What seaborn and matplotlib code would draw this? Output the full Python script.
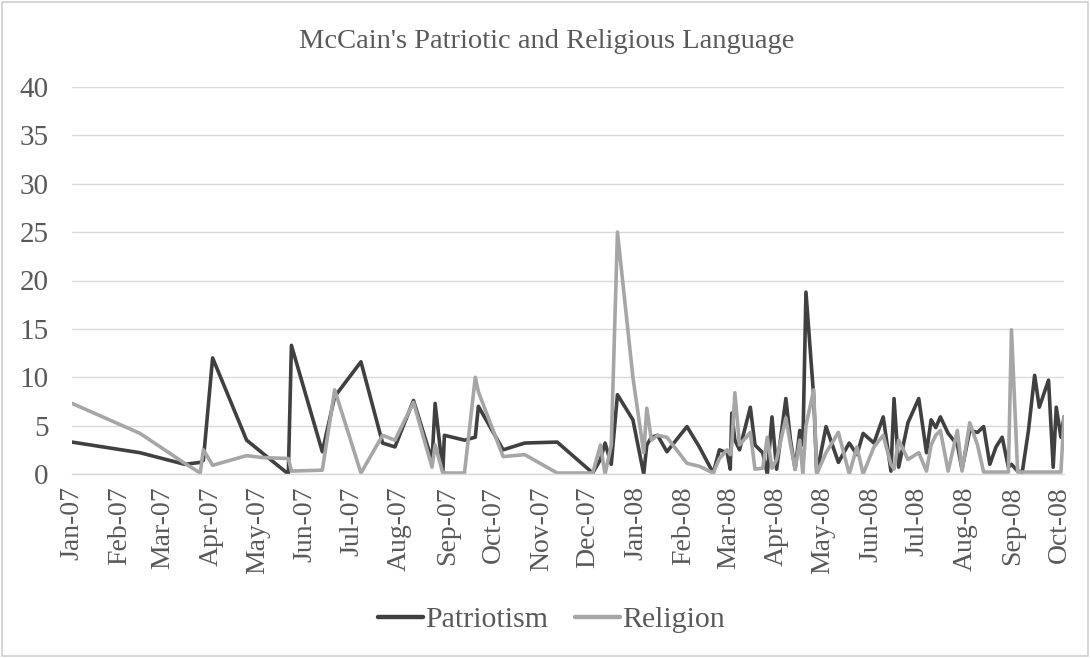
import matplotlib
matplotlib.use("Agg")
import matplotlib.pyplot as plt
import matplotlib.dates as mdates
from matplotlib.patches import Rectangle
import pandas as pd
import seaborn as sns

# Speech dates with patriotic / religious language counts
dates = [
    "2007-01-01", "2007-02-14", "2007-03-15", "2007-03-25", "2007-03-27", "2007-04-02",
    "2007-04-24", "2007-05-04", "2007-05-21", "2007-05-23", "2007-06-12", "2007-06-20",
    "2007-07-07", "2007-07-21", "2007-07-29", "2007-08-10", "2007-08-22", "2007-08-24",
    "2007-08-29", "2007-08-30", "2007-09-12", "2007-09-19", "2007-09-21", "2007-10-07",
    "2007-10-21", "2007-11-11", "2007-12-04", "2007-12-09", "2007-12-12", "2007-12-16",
    "2007-12-20", "2007-12-30", "2008-01-06", "2008-01-08", "2008-01-11", "2008-01-15",
    "2008-01-21", "2008-02-03", "2008-02-11", "2008-02-20", "2008-02-24", "2008-02-29",
    "2008-03-02", "2008-03-03", "2008-03-05", "2008-03-08", "2008-03-15", "2008-03-18",
    "2008-03-23", "2008-03-26", "2008-03-29", "2008-04-01", "2008-04-07", "2008-04-10",
    "2008-04-13", "2008-04-16", "2008-04-18", "2008-04-20", "2008-04-25", "2008-04-27",
    "2008-05-03", "2008-05-11", "2008-05-18", "2008-05-23", "2008-05-27", "2008-06-03",
    "2008-06-09", "2008-06-14", "2008-06-16", "2008-06-19", "2008-06-25", "2008-07-02",
    "2008-07-07", "2008-07-10", "2008-07-13", "2008-07-16", "2008-07-21", "2008-07-27",
    "2008-07-30", "2008-08-04", "2008-08-09", "2008-08-13", "2008-08-17", "2008-08-21",
    "2008-08-25", "2008-08-29", "2008-08-31", "2008-09-04", "2008-09-07", "2008-09-11",
    "2008-09-15", "2008-09-18", "2008-09-24", "2008-09-27", "2008-09-29", "2008-10-02",
    "2008-10-04",
]

patriotism = [
    3.3, 2.2, 1.0, 1.2, 1.4, 12.0,
    3.5, 2.2, 0.0, 13.3, 2.3, 8.0,
    11.6, 3.2, 2.8, 7.6, 1.4, 7.3,
    0.2, 4.0, 3.5, 3.8, 7.0, 2.5,
    3.2, 3.3, 0.1, 1.5, 3.2, 1.0,
    8.2, 5.6, 0.0, 3.0, 3.8, 4.0,
    2.3, 4.9, 2.8, 0.1, 2.5, 2.2,
    0.5, 6.3, 3.5, 2.5, 6.9, 3.0,
    2.2, 0.0, 5.9, 0.5, 7.8, 3.5,
    0.5, 4.5, 3.0, 18.8, 8.0, 0.0,
    4.9, 1.2, 3.2, 2.0, 4.2, 3.2,
    5.9, 0.3, 7.8, 0.7, 5.3, 7.8,
    2.2, 5.6, 4.8, 5.9, 4.2, 3.0,
    0.5, 4.5, 4.3, 4.9, 1.0, 2.8,
    3.8, 0.7, 1.0, 0.3, 0.2, 4.5,
    10.2, 6.9, 9.7, 0.7, 6.9, 3.8,
    5.9,
]

religion = [
    7.3, 4.2, 1.1, 0.1, 2.5, 0.9,
    1.9, 1.7, 1.6, 0.3, 0.4, 8.7,
    0.1, 4.0, 3.5, 7.4, 0.7, 3.0,
    0.1, 0.1, 0.1, 10.0, 8.5, 1.8,
    2.0, 0.1, 0.1, 3.0, 0.0, 3.0,
    25.0, 10.0, 2.2, 6.8, 3.5, 4.0,
    3.8, 1.1, 0.8, 0.1, 1.6, 2.5,
    2.0, 3.0, 8.4, 3.0, 4.3, 0.5,
    0.6, 3.8, 0.6, 1.5, 5.8, 3.0,
    0.5, 3.5, 0.0, 5.0, 8.7, 0.0,
    2.2, 4.3, 0.0, 2.8, 0.0, 2.8,
    4.0, 1.0, 0.5, 3.5, 1.5, 2.2,
    0.3, 3.0, 4.0, 4.5, 0.3, 4.5,
    0.3, 5.3, 3.0, 0.2, 0.2, 0.2,
    0.2, 0.2, 14.9, 0.2, 0.2, 0.2,
    0.2, 0.2, 0.2, 0.2, 0.2, 0.2,
    5.9,
]

series_names = ["Patriotism", "Religion"]
series_colors = ["#404040", "#a6a6a6"]
y_ticks = [0, 5, 10, 15, 20, 25, 30, 35, 40]
title = "McCain's Patriotic and Religious Language"

df = pd.DataFrame({
    "date": pd.to_datetime(dates * 2),
    "value": patriotism + religion,
    "series": [series_names[0]] * len(dates) + [series_names[1]] * len(dates),
})

sns.set_theme(style="white")
plt.rcParams["font.family"] = ["Liberation Serif", "DejaVu Serif"]

W, H = 1090, 658
fig = plt.figure(figsize=(W / 100, H / 100), dpi=100)
fig.patch.set_facecolor("white")
ax = fig.add_axes([72 / W, 1 - 474 / H, (1064 - 72) / W, (474 - 87) / H])

sns.lineplot(
    data=df, x="date", y="value", hue="series",
    palette=dict(zip(series_names, series_colors)),
    linewidth=2.6, ax=ax, legend=False, estimator=None, sort=False,
)

ax.set_xlim(pd.Timestamp("2007-01-01"), pd.Timestamp("2008-10-04"))
ax.set_ylim(0, 40)
ax.set_yticks(y_ticks)
ax.yaxis.grid(True, color="#d9d9d9", linewidth=1.0)
ax.xaxis.grid(False)
ax.set_axisbelow(True)
for s in ["top", "right", "left"]:
    ax.spines[s].set_visible(False)
ax.spines["bottom"].set_color("#d9d9d9")
ax.spines["bottom"].set_linewidth(1.0)

ax.xaxis.set_major_locator(mdates.MonthLocator())
ax.xaxis.set_major_formatter(mdates.DateFormatter("%b-%y"))
ax.tick_params(axis="x", length=0, pad=9, labelsize=20, labelcolor="#595959", rotation=90)
ax.tick_params(axis="y", length=0, pad=17, labelsize=21, labelcolor="#595959")
ax.set_xlabel("")
ax.set_ylabel("")

fig.text(0.502, 1 - 42 / H, title, ha="center", va="center", fontsize=20.5, color="#595959")

handles = [plt.Line2D([], [], color=c, linewidth=3.2) for c in series_colors]
fig.legend(handles, series_names, loc="center", bbox_to_anchor=(0.506, 1 - 620 / H),
           ncol=2, frameon=False, fontsize=21.5, handlelength=1.5, handletextpad=0.08,
           columnspacing=0.9, labelcolor="#595959")

fig.patches.append(Rectangle((2 / W, 2 / H), 1 - 4 / W, 1 - 4 / H, transform=fig.transFigure,
                             fill=False, edgecolor="#d0d0d0", linewidth=1.2))

fig.savefig("out.png", dpi=100, facecolor="white")
